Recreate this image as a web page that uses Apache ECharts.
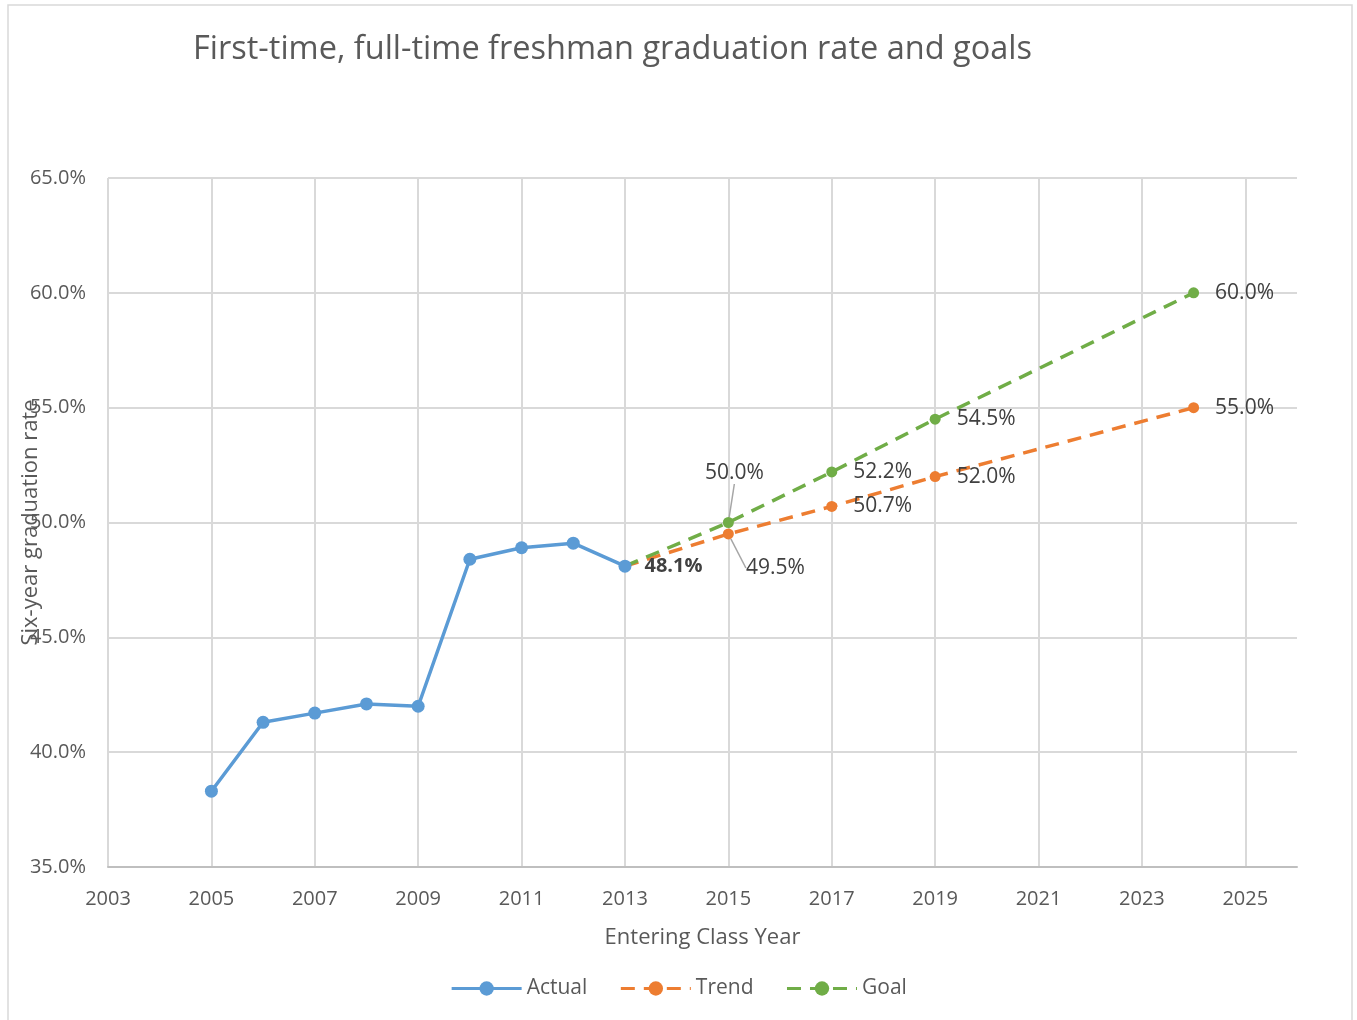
<!DOCTYPE html>
<html>
<head>
<meta charset="utf-8">
<script src="https://cdn.jsdelivr.net/npm/echarts@6/dist/echarts.min.js"></script>
<style>
  html, body { margin: 0; padding: 0; background: #fff; }
  #chart { width: 1357px; height: 1020px; }
</style>
</head>
<body>
<div id="chart"></div>
<script>
// data
var actualYears = [2005, 2006, 2007, 2008, 2009, 2010, 2011, 2012, 2013];
var actualRate = [38.3, 41.3, 41.7, 42.1, 42.0, 48.4, 48.9, 49.1, 48.1];
var projYears = [2013, 2015, 2017, 2019, 2024];
var trendRate = [48.1, 49.5, 50.7, 52.0, 55.0];
var goalRate = [48.1, 50.0, 52.2, 54.5, 60.0];

var FONT = '"Open Sans", "Noto Sans", sans-serif';
var TXT = '#595959';

function pct(v) { return v.toFixed(1) + '%'; }

function projData(years, rates, special) {
    var out = [];
    for (var i = 0; i < years.length; i++) {
        var item = { value: [years[i], rates[i]] };
        if (i === 0) {
            item.symbol = 'none';
            item.label = { show: false };
        }
        if (i === 1 && special) {
            item.label = { position: special };
            item.labelLine = { show: true, lineStyle: { color: '#a6a6a6', width: 1.5 } };
        }
        out.push(item);
    }
    return out;
}

var chart = echarts.init(document.getElementById('chart'));

var option = {
    backgroundColor: '#fff',
    textStyle: { fontFamily: FONT },
    graphic: [{
        type: 'rect',
        shape: { x: 8, y: 5, width: 1344, height: 1030 },
        style: { fill: 'none', stroke: '#d9d9d9', lineWidth: 1.5 },
        silent: true
    }],
    title: {
        text: 'First-time, full-time freshman graduation rate and goals',
        left: 188,
        top: 28,
        textStyle: { fontFamily: FONT, fontSize: 32.5, fontWeight: 'normal', color: TXT }
    },
    legend: {
        bottom: 16,
        left: 'center',
        itemWidth: 70,
        itemHeight: 18,
        itemGap: 32,
        lineStyle: { width: 3 },
        textStyle: { fontFamily: FONT, fontSize: 21, color: TXT },
        data: ['Actual', 'Trend', 'Goal']
    },
    grid: { left: 108, right: 60, top: 178, bottom: 153, containLabel: false, outerBoundsMode: 'none' },
    xAxis: {
        type: 'value',
        min: 2003,
        max: 2026,
        interval: 2,
        name: 'Entering Class Year',
        nameLocation: 'middle',
        nameGap: 60,
        nameTextStyle: { fontFamily: FONT, fontSize: 22, color: TXT },
        axisLine: { show: true, lineStyle: { color: '#bfbfbf', width: 2 } },
        axisTick: { show: false },
        axisLabel: {
            margin: 22, fontSize: 20, color: TXT, fontFamily: FONT,
            showMaxLabel: false,
            formatter: function (v) { return String(v); }
        },
        splitLine: { show: true, showMaxLine: false, lineStyle: { color: '#d9d9d9', width: 2 } }
    },
    yAxis: {
        type: 'value',
        min: 35,
        max: 65,
        interval: 5,
        name: 'Six-year graduation rate',
        nameLocation: 'middle',
        nameGap: 66,
        nameMoveOverlap: false,
        nameTextStyle: { fontFamily: FONT, fontSize: 22, color: TXT },
        axisLine: { show: false },
        axisTick: { show: false },
        axisLabel: { margin: 22, fontSize: 20, color: TXT, fontFamily: FONT, formatter: pct },
        splitLine: { show: true, lineStyle: { color: '#d9d9d9', width: 2 } }
    },
    series: [
        {
            name: 'Trend',
            type: 'line',
            data: projData(projYears, trendRate, 'bottom'),
            color: '#ed7d31',
            symbol: 'circle',
            symbolSize: 11,
            lineStyle: { width: 3.5, type: [14, 9] },
            label: {
                show: true, position: 'right', distance: 16,
                fontSize: 21, color: '#404040', fontFamily: FONT,
                formatter: function (p) { return pct(p.value[1]); }
            },
            labelLayout: function (p) {
                if (p.dataIndex === 1) return { dx: 47, dy: 2 };
                return {};
            },
            z: 2
        },
        {
            name: 'Goal',
            type: 'line',
            data: projData(projYears, goalRate, 'top'),
            color: '#70ad47',
            symbol: 'circle',
            symbolSize: 11,
            lineStyle: { width: 3.5, type: [14, 9] },
            label: {
                show: true, position: 'right', distance: 16,
                fontSize: 21, color: '#404040', fontFamily: FONT,
                formatter: function (p) { return pct(p.value[1]); }
            },
            labelLayout: function (p) {
                if (p.dataIndex === 1) return { dx: 6, dy: -17 };
                return {};
            },
            z: 2
        },
        {
            name: 'Actual',
            type: 'line',
            data: actualYears.map(function (y, i) {
                var item = { value: [y, actualRate[i]] };
                if (i === actualYears.length - 1) {
                    item.label = {
                        show: true, position: 'right', distance: 13,
                        fontSize: 20, fontWeight: 'bold', color: '#404040', fontFamily: FONT,
                        formatter: function (p) { return pct(p.value[1]); }
                    };
                }
                return item;
            }),
            color: '#5b9bd5',
            symbol: 'circle',
            symbolSize: 13,
            lineStyle: { width: 3.5 },
            label: { show: false },
            z: 3
        }
    ]
};

chart.setOption(option);
</script>
</body>
</html>
